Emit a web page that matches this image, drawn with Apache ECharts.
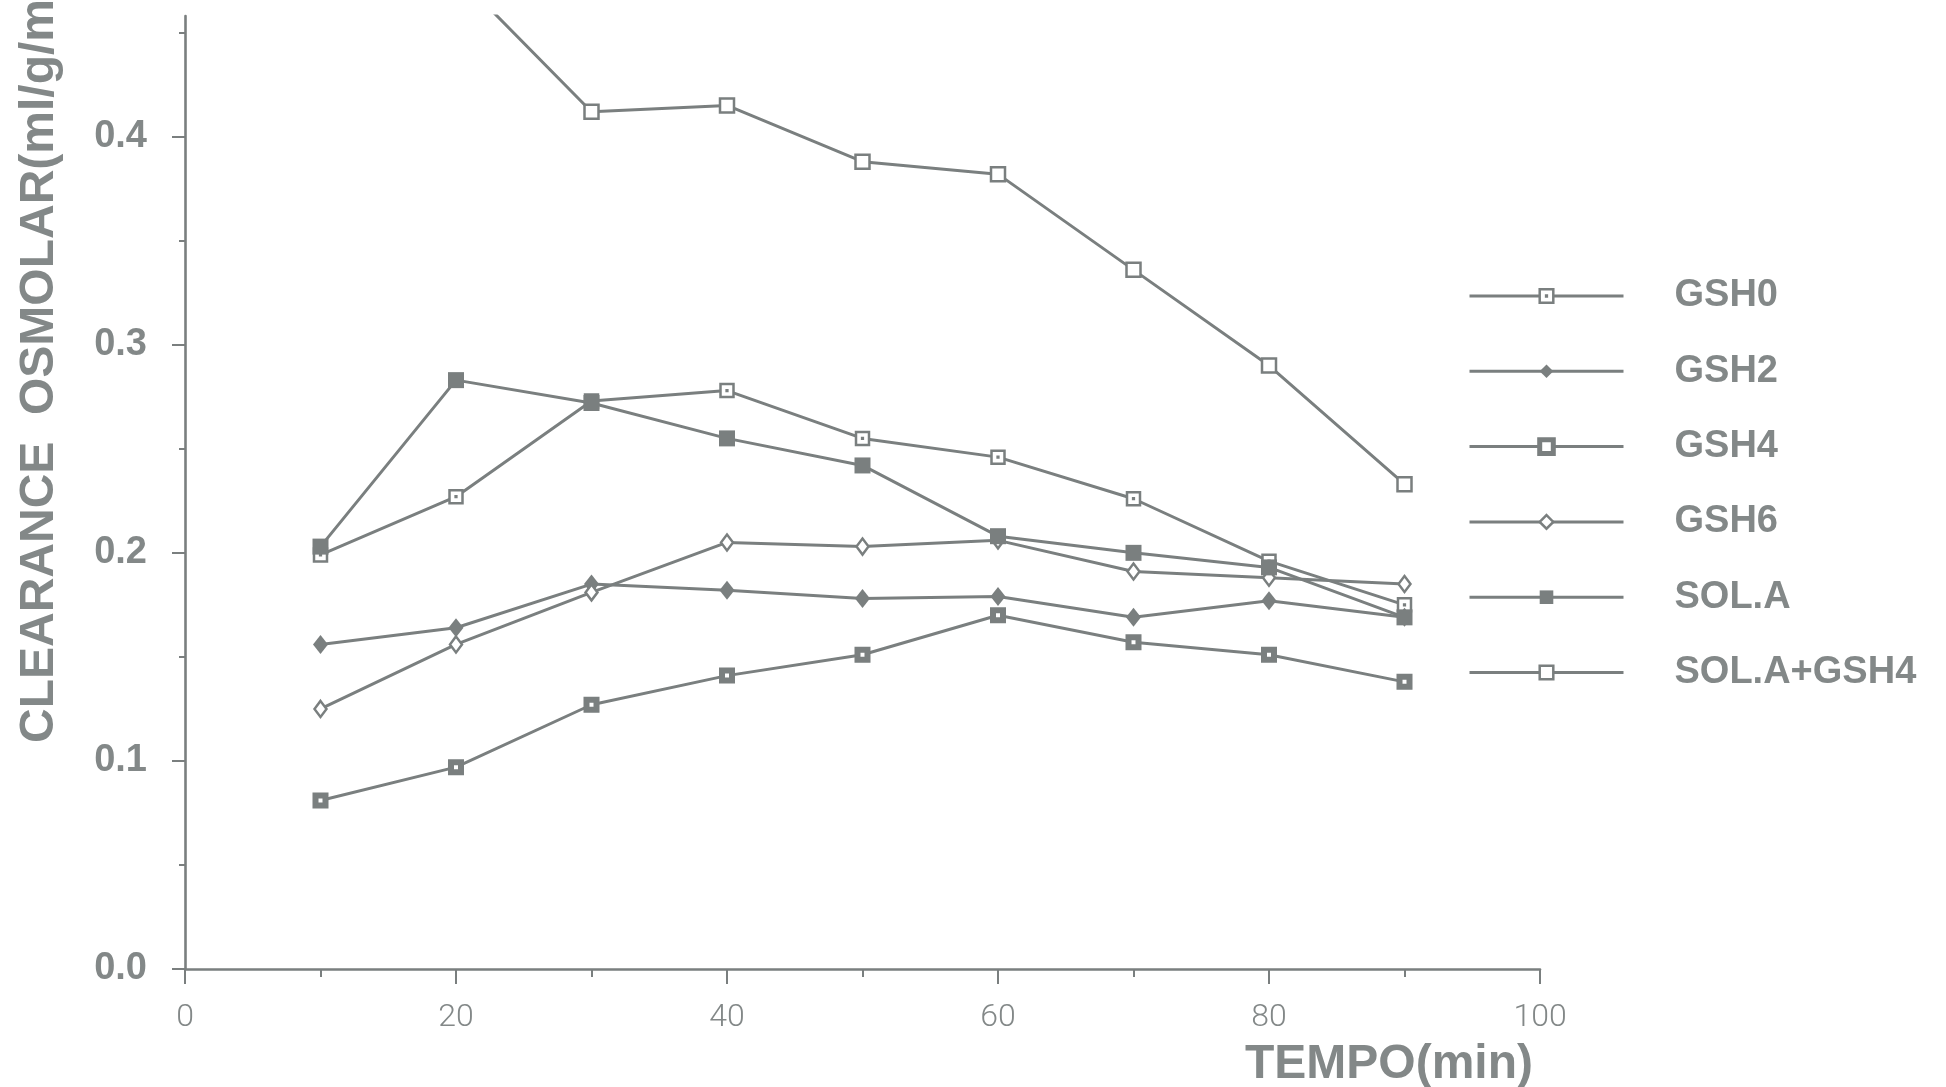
<!DOCTYPE html>
<html>
<head>
<meta charset="utf-8">
<script src="https://cdn.jsdelivr.net/npm/echarts@6/dist/echarts.min.js"></script>
<style>html,body{margin:0;padding:0;background:#fff;}#c{width:1946px;height:1087px;}</style>
</head>
<body>
<div id="c"></div>
<script>
const minutes = [10, 20, 30, 40, 50, 60, 70, 80, 90];
const seriesNames = ['GSH0', 'GSH2', 'GSH4', 'GSH6', 'SOL.A', 'SOL.A+GSH4'];
const gsh0 = [0.199, 0.227, 0.273, 0.278, 0.255, 0.246, 0.226, 0.196, 0.175];
const gsh2 = [0.156, 0.164, 0.185, 0.182, 0.178, 0.179, 0.169, 0.177, 0.169];
const gsh4 = [0.081, 0.097, 0.127, 0.141, 0.151, 0.170, 0.157, 0.151, 0.138];
const gsh6 = [0.125, 0.156, 0.181, 0.205, 0.203, 0.206, 0.191, 0.188, 0.185];
const solA = [0.203, 0.283, 0.272, 0.255, 0.242, 0.208, 0.200, 0.193, 0.169];
const solAGsh4 = [0.462, 0.478, 0.412, 0.415, 0.388, 0.382, 0.336, 0.290, 0.233];
const yMajorTicks = [0, 0.1, 0.2, 0.3, 0.4];
const yMinorTicks = [0.05, 0.15, 0.25, 0.35, 0.45];
const xMajorTicks = [0, 20, 40, 60, 80, 100];
const xMinorTicks = [10, 30, 50, 70, 90];
const yTitle = 'CLEARANCE  OSMOLAR(ml/g/min)';
const xTitle = 'TEMPO(min)';

const GRAY = '#7a7f7f';
const TEXT = '#838888';
const pairs = arr => minutes.map((m, i) => [m, arr[i]]);

const base = {
  type: 'line',
  clip: true,
  lineStyle: { color: GRAY, width: 3 },
  emphasis: { disabled: true },
  animation: false
};

const styles = {
  'GSH0': { symbol: 'path://M0,0H14V14H0Z M6.6,6.6H7.4V7.4H6.6Z', symbolSize: 13,
            itemStyle: { color: '#fff', borderColor: GRAY, borderWidth: 2.5 } },
  'GSH2': { symbol: 'diamond', symbolSize: [15, 19],
            itemStyle: { color: GRAY, borderColor: GRAY, borderWidth: 0 } },
  'GSH4': { symbol: 'rect', symbolSize: 10,
            itemStyle: { color: '#fff', borderColor: GRAY, borderWidth: 6 } },
  'GSH6': { symbol: 'diamond', symbolSize: [12, 16],
            itemStyle: { color: '#fff', borderColor: GRAY, borderWidth: 2.5 } },
  'SOL.A': { symbol: 'rect', symbolSize: 16,
            itemStyle: { color: GRAY, borderColor: GRAY, borderWidth: 0 } },
  'SOL.A+GSH4': { symbol: 'rect', symbolSize: 14,
            itemStyle: { color: '#fff', borderColor: GRAY, borderWidth: 2.5 } }
};
const legendBorder = { 'GSH0': 2.5, 'GSH2': 0, 'GSH4': 5, 'GSH6': 2.5, 'SOL.A': 0, 'SOL.A+GSH4': 2.5 };
const values = { 'GSH0': gsh0, 'GSH2': gsh2, 'GSH4': gsh4, 'GSH6': gsh6, 'SOL.A': solA, 'SOL.A+GSH4': solAGsh4 };

const chart = echarts.init(document.getElementById('c'), null, { renderer: 'canvas' });
chart.setOption({
  backgroundColor: '#fff',
  animation: false,
  grid: { left: 185, right: 406, top: 16, bottom: 118, containLabel: false },
  legend: {
    orient: 'vertical',
    left: 1468,
    top: 270,
    padding: 0,
    itemWidth: 154,
    itemHeight: 17,
    itemGap: 23.3,
    selectedMode: false,
    lineStyle: { width: 3, color: GRAY },
    data: seriesNames.map(n => ({
      name: n,
      itemStyle: Object.assign({}, styles[n].itemStyle, { borderWidth: legendBorder[n] })
    })),
    textStyle: {
      color: TEXT, fontFamily: 'Liberation Sans', fontWeight: 'bold',
      fontSize: 38, lineHeight: 40, padding: [12, 0, 0, 46]
    }
  },
  xAxis: [{
    type: 'value', min: 0, max: 100, position: 'bottom',
    axisLine: { show: true, lineStyle: { color: GRAY, width: 2.6 } },
    axisTick: { show: true, customValues: xMinorTicks, length: 8, lineStyle: { color: GRAY, width: 2 } },
    axisLabel: { customValues: xMajorTicks, margin: 33, color: TEXT, fontFamily: 'Roboto', fontWeight: 300, fontSize: 32 },
    splitLine: { show: false }
  }, {
    type: 'value', min: 0, max: 100, position: 'bottom',
    axisLine: { show: false },
    axisTick: { show: true, customValues: xMajorTicks, length: 15, lineStyle: { color: GRAY, width: 2 } },
    axisLabel: { show: false },
    splitLine: { show: false }
  }],
  yAxis: [{
    type: 'value', min: 0, max: 0.458, position: 'left',
    axisLine: { show: true, lineStyle: { color: GRAY, width: 2.6 } },
    axisTick: { show: true, customValues: yMinorTicks, length: 6, lineStyle: { color: GRAY, width: 2 } },
    axisLabel: {
      customValues: yMajorTicks, margin: 38, color: TEXT,
      fontFamily: 'Liberation Sans', fontWeight: 'bold', fontSize: 38,
      formatter: v => v.toFixed(1)
    },
    splitLine: { show: false }
  }, {
    type: 'value', min: 0, max: 0.458, position: 'left',
    axisLine: { show: false },
    axisTick: { show: true, customValues: yMajorTicks, length: 13, lineStyle: { color: GRAY, width: 2 } },
    axisLabel: { show: false },
    splitLine: { show: false }
  }],
  graphic: [{
    type: 'text', x: 40, y: 743, rotation: Math.PI / 2,
    style: { text: yTitle, fill: TEXT, font: 'bold 48px "Liberation Sans"', textAlign: 'left', textVerticalAlign: 'middle' }
  }, {
    type: 'text', x: 1533, y: 1065,
    style: { text: xTitle, fill: TEXT, font: 'bold 48px "Liberation Sans"', textAlign: 'right', textVerticalAlign: 'middle' }
  }],
  series: seriesNames.map(n => Object.assign({}, base, styles[n], {
    name: n,
    data: pairs(values[n])
  }))
});
</script>
</body>
</html>
